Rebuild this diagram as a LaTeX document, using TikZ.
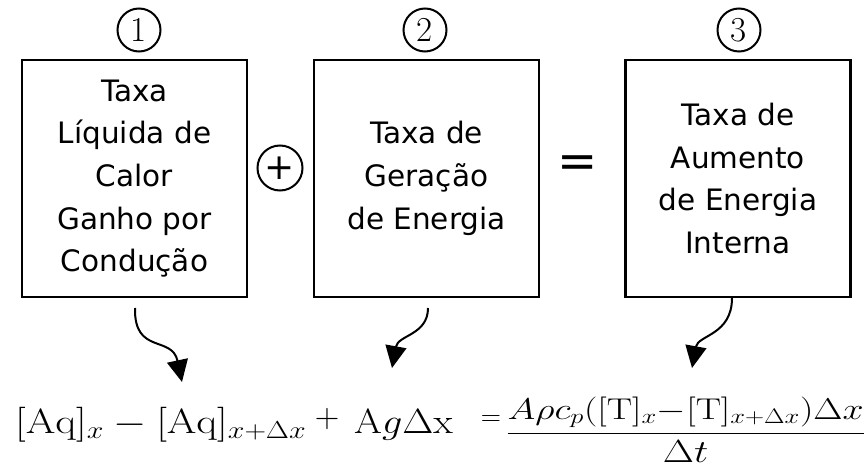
\RequirePackage{fix-cm}
\documentclass[tikz,border=0pt]{standalone}
\usepackage[no-math]{fontspec}
\usepackage{amsmath}
\usepackage{graphicx}
\setmainfont{DejaVu Sans}
\newfontfamily\lmfont{Latin Modern Roman}
\usetikzlibrary{arrows.meta}
\begin{document}
\begin{tikzpicture}[x=1pt,y=-1pt,
  box/.style={draw, line width=2.2pt, minimum width=225pt, minimum height=237pt, align=center, font=\fontsize{29.5}{42.7}\selectfont, inner sep=0pt},
  num/.style={draw, circle, line width=2pt, minimum size=43pt, inner sep=0pt, font=\lmfont\fontsize{35}{35}\selectfont},
  arr/.style={line width=2pt, -{Triangle[length=22pt,width=21pt]}},
  eq/.style={inner sep=0pt, font=\fontsize{35}{40}\selectfont}]
\useasboundingbox (0,0) rectangle (868,473);
% boxes
\node[box] (b1) at (134.5,178.5) {Taxa\\Líquida de\\Calor\\Ganho por\\Condução};
\node[box] (b2) at (426.5,178.5) {Taxa de\\Geração\\de Energia};
\node[box] (b3) at (738,178.5) {Taxa de\\Aumento\\de Energia\\Interna};
% circled numbers
\node[num] (n1) at (139,30) {1};
\node[num] (n2) at (425,30) {2};
\node[num] (n3) at (739,30) {3};
% operators
\node[draw, circle, line width=2pt, minimum size=45pt, inner sep=0pt, font=\fontsize{36}{36}\selectfont] (op) at (280,168) {+};
\node[inner sep=0pt, font=\fontsize{48}{48}\selectfont] (eqs) at (578,167) {=};
% equation
\node[eq, anchor=base west] (lhs) at (15,433) {\scalebox{1.22}[1]{$[\mathrm{Aq}]_x - [\mathrm{Aq}]_{x+\Delta x}$}};
\node[inner sep=0pt, font=\fontsize{34}{34}\selectfont] (gp) at (327,419) {$+$};
\node[eq, anchor=base west] (gen) at (354,433) {\scalebox{1.15}[1]{$\mathrm{A}g\Delta\mathrm{x}$}};
\node[inner sep=0pt, font=\fontsize{28}{30}\selectfont] (eqr) at (491,421) {$=$};
\node[eq, anchor=base west, font=\fontsize{32}{38}\selectfont] (frac) at (506,441) {\scalebox{1.26}[1]{$\dfrac{\hbox{\fontsize{30}{32}\selectfont$A\rho c_p([\mathrm{T}]_x{-}[\mathrm{T}]_{x+\Delta x})\Delta x$}}{\Delta t}$}};
% arrow ends
\coordinate (t1) at (182,382);
\coordinate (t2) at (392,368);
\coordinate (t3) at (692,368);
\coordinate (s1) at (135,308);
\coordinate (s2) at (428,308);
\coordinate (s3) at (732,298);
\draw[arr] (s1) .. controls (134,355) and (172,335) .. (t1);
\draw[arr] (s2) .. controls (428,335) and (398,335) .. (t2);
\draw[arr] (s3) .. controls (732,335) and (698,335) .. (t3);
\end{tikzpicture}
\end{document}
